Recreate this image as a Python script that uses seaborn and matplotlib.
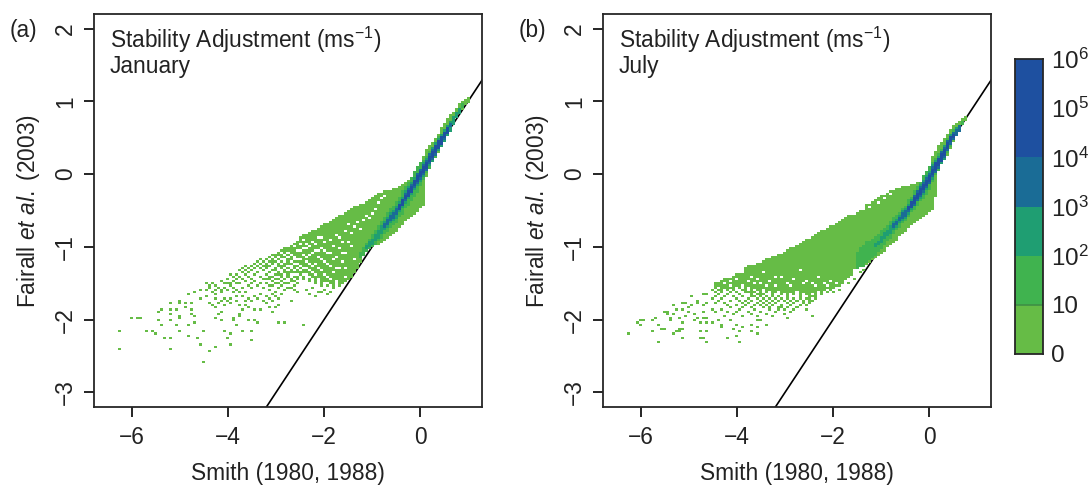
import numpy as np
import pandas as pd
import matplotlib
matplotlib.use("Agg")
from matplotlib import pyplot as plt
from matplotlib.colors import ListedColormap
import seaborn as sns

# colour classes, bottom to top of the colour bar
class_colors = ["#66bc46", "#40b34f", "#1f9e72", "#1a6c96", "#1e50a0"]
bar_classes = [5, 5, 4, 3, 2, 1]
bar_labels = ["$10^6$", "$10^5$", "$10^4$", "$10^3$", "$10^2$", "10", "0"]

xticks = [-6, -4, -2, 0]
yticks = [-3, -2, -1, 0, 1, 2]
line_xy = [-7, 2]

# JANUARY: solid part of the cloud, one high/low value per column
jan_col_x = np.arange(-2.5, 1.05, 0.0625)
jan_hi = [-.86, -.85, -.83, -.81, -.79, -.77, -.75, -.72, -.70, -.68, -.66, -.63, -.61, -.58, -.56, -.54, -.52, -.49, -.46,
          -.44, -.43, -.41, -.38, -.36, -.34, -.31, -.28, -.26, -.25, -.25, -.24, -.22, -.20, -.18, -.15, -.11, -.08, -.07,
          -.05, -.02, .05, .24, .34, .38, .43, .48, .55, .62, .69, .75, .80, .85, .91, .97, 1.0, 1.03, 1.06]
jan_lo = [-1.38, -1.44, -1.35, -1.47, -1.41, -1.50, -1.44, -1.53, -1.47, -1.53, -1.50, -1.56, -1.47, -1.53, -1.50, -1.47,
          -1.44, -1.41, -1.36, -1.30, -1.2, -1.11, -1.0, -.99, -.98, -.97, -.96, -.94, -.90, -.87, -.84, -.81, -.77, -.73,
          -.69, -.63, -.59, -.56, -.53, -.50, -.45, -.41, -.04, .12, .17, .23, .31, .38, .50, .61, .66, .72, .78, .84, .90, .95, 1.0]

# JANUARY: busier part of the ridge
jan_core_x = np.arange(-1.25, 0.95, 0.0625)
jan_mid = [-1.12, -1.07, -1.01, -.97, -.92, -.87, -.82, -.77, -.71, -.66, -.61, -.56, -.52, -.45, -.39, -.32, -.26, -.20,
           -.13, -.07, -.01, .06, .13, .20, .27, .34, .41, .47, .53, .60, .67, .74, .81, .87, .94, 1.0]
jan_w2 = [.03, .04, .05, .06, .07, .08, .09, .10, .11, .11, .12, .12, .13, .13, .14, .14, .15, .15, .16, .16, .15, .11, .10,
          .10, .09, .09, .09, .08, .08, .07, .06, .05, .04, .03, .02, 0]
jan_w3 = [0, 0, .02, .03, .03, .03, .04, .05, .05, .06, .06, .06, .07, .07, .07, .07, .08, .08, .08, .08, .08, .08, .08, .08,
          .08, .08, .08, .08, .08, .07, .06, .05, .03, .02, 0, 0]
jan_w4 = [0, 0, 0, 0, 0, 0, 0, 0, .02, .02, .03, .03, .03, .04, .04, .05, .05, .05, .05, .06, .06, .06, .06, .06, .06, .06,
          .05, .05, .04, .03, .02, 0, 0, 0, 0, 0]
jan_w5 = [0, 0, 0, 0, 0, 0, 0, 0, 0, 0, 0, 0, 0, .02, .02, .02, .03, .03, .03, .03, .03, .03, .03, .03, .04, .04, .04, .04,
          .03, .03, 0, 0, 0, 0, 0, 0]

# JANUARY: gaps in the solid part
jan_gap_x = [-2.44, -2.44, -2.38, -2.38, -2.31, -2.25, -2.25, -2.19, -2.19, -2.13, -2.13, -2.06, -2.06, -2.0, -2.0, -1.94,
             -1.94, -1.88, -1.88, -1.81, -1.81, -1.75, -1.75, -1.69, -1.69, -1.63, -1.63, -1.56, -1.56, -1.5, -1.5, -1.44,
             -1.38, -1.31, -1.25, -1.19, -1.13, -1.06, -1.0, -.94, -.88, -2.5, -2.31, -2.13, -1.94, -1.75, -1.56, -.81, -.75,
             -2.5, -2.5, -2.5, -2.5, -2.44, -2.44, -2.44, -2.38, -2.38, -2.38, -2.31, -2.31, -2.31, -2.25, -2.25, -2.19, -2.19,
             -2.13, -2.13, -2.06, -2.06, -2.0, -2.0, -1.94, -1.88, -1.88, -1.81, -1.75, -1.69, -1.63, -1.56, -1.44, -1.38]
jan_gap_y = [-1.02, -1.29, -.96, -1.2, -1.11, -.93, -1.35, -1.05, -1.23, -.87, -1.14, -1.02, -1.32, -.93, -1.2, -1.08,
             -1.41, -.9, -1.26, -.99, -1.35, -.84, -1.14, -1.02, -1.29, -.93, -1.2, -.78, -1.08, -.69, -.93, -.81,
             -.72, -.66, -.75, -.63, -.57, -.6, -.54, -.48, -.39, -1.17, -1.41, -1.44, -1.5, -1.47, -1.41, -.33, -.3,
             -.96, -1.05, -1.26, -1.32, -.9, -1.11, -1.38, -1.02, -1.14, -1.29, -.99, -1.23, -1.32, -1.08, -1.26, -.96, -1.38,
             -1.05, -1.29, -.87, -1.17, -1.05, -1.38, -1.23, -1.08, -1.44, -1.17, -1.29, -.87, -1.08, -1.29, -.99, -1.17]

# JANUARY: scattered cells to the left, listed column by column
jan_scat_x = np.arange(-4.4375, -2.5, 0.0625)
jan_scat_y = [
    [-1.50, -1.59, -1.68], [-1.53, -1.56, -1.77], [-1.50, -1.62, -1.80], [-1.53, -1.59, -1.65, -1.71, -1.83],
    [-1.56, -1.77, -1.92], [-1.47, -1.59, -1.62, -1.74, -1.89], [-1.50, -1.56, -1.71, -1.80], [-1.44, -1.50, -1.59, -1.74],
    [-1.38, -1.50, -1.53, -1.71, -1.77], [-1.41, -1.47, -1.56, -1.62, -1.98], [-1.38, -1.44, -1.50, -1.59, -1.68, -1.74],
    [-1.32, -1.41, -1.50, -1.62, -1.80, -1.92], [-1.29, -1.35, -1.44, -1.56, -1.68, -1.86],
    [-1.26, -1.32, -1.38, -1.47, -1.62, -1.74, -1.80], [-1.29, -1.35, -1.41, -1.53, -1.71, -1.83],
    [-1.26, -1.32, -1.44, -1.50, -1.56, -1.74], [-1.23, -1.29, -1.38, -1.47, -1.68, -1.86], [-1.20, -1.26, -1.35, -1.53, -1.71],
    [-1.17, -1.23, -1.29, -1.41, -1.50, -1.65, -1.86], [-1.20, -1.26, -1.32, -1.44, -1.56, -1.74],
    [-1.17, -1.23, -1.26, -1.29, -1.38, -1.44, -1.50, -1.68, -1.77], [-1.14, -1.20, -1.26, -1.35, -1.41, -1.44, -1.53, -1.59, -1.71, -1.83],
    [-1.11, -1.17, -1.20, -1.23, -1.32, -1.41, -1.47, -1.53, -1.65, -1.74, -1.89], [-1.11, -1.14, -1.20, -1.29, -1.32, -1.38, -1.44, -1.50, -1.62, -1.68, -1.83],
    [-1.08, -1.11, -1.17, -1.23, -1.26, -1.35, -1.38, -1.44, -1.50, -1.56, -1.71, -1.80], [-1.05, -1.11, -1.14, -1.20, -1.26, -1.29, -1.38, -1.41, -1.47, -1.53, -1.65],
    [-1.02, -1.05, -1.08, -1.14, -1.23, -1.26, -1.32, -1.35, -1.44, -1.50, -1.59], [-1.02, -1.05, -1.11, -1.17, -1.20, -1.23, -1.29, -1.35, -1.38, -1.41, -1.50, -1.56],
    [-.99, -1.02, -1.05, -1.08, -1.14, -1.17, -1.23, -1.32, -1.35, -1.44, -1.47, -1.56, -1.74], [-.96, -1.02, -1.05, -1.08, -1.11, -1.20, -1.26, -1.29, -1.35, -1.41, -1.47, -1.53, -1.59],
    [-.93, -.96, -.99, -1.02, -1.08, -1.11, -1.14, -1.20, -1.26, -1.32, -1.35, -1.41, -1.44, -1.50, -1.62],
]
# JANUARY: far outliers
jan_far_x = [-6.26, -6.26, -5.97, -5.87, -5.82, -5.68, -5.58, -5.51, -5.41, -5.37, -5.41, -5.35, -5.33, -5.21, -5.16, -5.16,
             -5.16, -5.16, -5.08, -5.21, -5.08, -5.01, -4.97, -4.97, -5.01, -4.97, -4.83, -4.83, -4.76, -4.66, -4.66, -4.62,
             -4.83, -4.86, -4.86, -4.72, -4.76, -4.66, -4.56, -4.56, -4.56, -4.47, -4.51, -4.37, -4.22, -3.91, -3.91, -3.97,
             -4.06, -3.80, -3.87, -3.66, -3.51, -3.51, -3.55, -3.45, -3.37, -2.95, -2.81, -2.45, -4.22, -4.12, -3.76, -2.2, -2.06,
             -2.38, -2.31, -2.25, -2.13, -2.0, -1.94, -1.88]
jan_far_y = [-2.15, -2.39, -1.995, -1.98, -1.995, -2.17, -2.15, -2.20, -1.89, -1.86, -2.0, -2.08, -2.24, -2.24, -2.39, -1.76,
             -1.87, -1.93, -1.86, -2.0, -2.08, -1.95, -1.98, -2.17, -1.77, -1.73, -2.08, -2.23, -1.93, -1.94, -2.05, -2.24,
             -1.64, -1.76, -1.83, -1.86, -1.77, -1.62, -1.58, -1.71, -2.35, -2.17, -2.57, -2.42, -2.37, -2.35, -2.20, -2.24,
             -2.15, -2.08, -2.01, -2.15, -2.15, -2.27, -2.02, -2.02, -2.05, -2.05, -2.05, -2.08, -1.98, -2.0, -1.95, -1.68, -1.62,
             -1.59, -1.65, -1.56, -1.62, -1.59, -1.65, -1.62]

# JULY: solid part of the cloud
jul_col_x = np.arange(-4.4375, 0.8, 0.0625)
jul_hi = [-1.51, -1.49, -1.47, -1.45, -1.44, -1.43, -1.41, -1.39,
          -1.37, -1.34, -1.29, -1.27, -1.26, -1.25, -1.24, -1.22, -1.20, -1.18, -1.17, -1.15, -1.13, -1.11, -1.10, -1.08, -1.06,
          -1.03, -1.01, -.98, -.96, -.94, -.91, -.89, -.87, -.84, -.82, -.79, -.77, -.75, -.73, -.71, -.69, -.66, -.62, -.59,
          -.58, -.57, -.56, -.53, -.50, -.47, -.43, -.41, -.38, -.36, -.34, -.31, -.29, -.27, -.24, -.23, -.22, -.21, -.19,
          -.18, -.17, -.15, -.14, -.13, -.11, -.08, -.04, .08, .24, .31, .38, .43, .48, .55, .61, .65, .69, .72, .75, .77]
jul_lo = [-1.56, -1.53, -1.59, -1.53, -1.56, -1.50, -1.56, -1.53,
          -1.56, -1.50, -1.59, -1.53, -1.62, -1.56, -1.59, -1.65, -1.56, -1.62, -1.59, -1.65, -1.62, -1.59, -1.65, -1.62, -1.68,
          -1.62, -1.65, -1.59, -1.68, -1.62, -1.65, -1.71, -1.62, -1.65, -1.59, -1.62, -1.59, -1.56, -1.59, -1.56, -1.53, -1.53, -1.50,
          -1.45, -1.41, -1.37, -1.30, -1.19, -1.20, -1.22, -1.23, -1.19, -1.16, -1.13, -1.11, -1.08, -1.04, -1.0, -.97, -.93, -.89,
          -.85, -.81, -.77, -.73, -.69, -.66, -.64, -.61, -.58, -.55, -.52, -.48, -.30, .10, .16, .22, .27, .36, .46, .56, .64, .70, .74]

jul_core_x = np.arange(-1.5, 0.8, 0.0625)
jul_mid = [-1.18, -1.15, -1.12, -1.07, -1.05, -1.01, -.98, -.94, -.90, -.85, -.81, -.76, -.71, -.67, -.62, -.57, -.53, -.47, -.42,
           -.36, -.30, -.24, -.18, -.12, -.05, .03, .10, .16, .23, .30, .39, .47, .53, .58, .63, .70, .75]
jul_w2 = [.10, .12, .13, .13, .13, .12, .12, .11, .11, .10, .10, .10, .10, .09, .09, .09, .09, .10, .10, .11, .12, .13, .14, .15,
          .15, .11, .10, .10, .09, .09, .08, .07, .06, .05, .04, .02, 0]
jul_w3 = [0, 0, 0, 0, 0, 0, .02, .02, .03, .03, .04, .04, .05, .05, .05, .06, .06, .06, .07, .07, .07, .08, .08, .08, .08, .08, .08,
          .08, .08, .08, .07, .06, .05, .04, .03, 0, 0]
jul_w4 = [0, 0, 0, 0, 0, 0, 0, 0, 0, 0, 0, 0, .02, .02, .02, .03, .03, .03, .04, .05, .05, .05, .06, .06, .06, .06, .06, .06, .06,
          .05, .05, .05, .04, .03, .02, 0, 0]
jul_w5 = [0, 0, 0, 0, 0, 0, 0, 0, 0, 0, 0, 0, 0, 0, 0, 0, 0, .02, .02, .03, .03, .03, .03, .03, .03, .03, .04, .04, .04, .04, .03, .03,
          .02, 0, 0, 0, 0]

jul_gap_x = [-3.88, -3.75, -3.69, -3.56, -3.44, -3.31, -3.19, -3.06, -2.94, -2.81, -2.69, -2.56, -2.44, -2.31, -2.19, -2.06, -3.5, -3.19, -2.88, -2.63,
             -2.38, -2.13, -1.94, -1.69, -1.38, -1.25, -1.06, -.94, -.81, -4.25, -4.13, -4.0, -3.63, -3.38]
jul_gap_y = [-1.35, -1.47, -1.41, -1.44, -1.35, -1.47, -1.53, -1.41, -1.5, -1.44, -1.32, -1.47, -1.5, -1.41, -1.5, -1.47, -1.5, -1.41, -1.53, -1.5,
             -1.53, -1.53, -1.5, -1.44, -.48, -.45, -.39, -.33, -.27, -1.5, -1.47, -1.44, -1.5, -1.53]

jul_scat_x = np.arange(-4.4375, -2.32, 0.0625)
jul_scat_y = [
    [-1.62, -1.68, -1.77, -1.89], [-1.59, -1.65, -1.74], [-1.62, -1.71, -1.86], [-1.56, -1.68, -1.77, -1.95],
    [-1.59, -1.65, -1.80, -1.89], [-1.56, -1.62, -1.74, -1.83], [-1.59, -1.68, -1.92],
    [-1.62, -1.71, -1.80, -1.89], [-1.65, -1.74, -1.86],
    [-1.59, -1.68, -1.77, -1.83, -1.95], [-1.56, -1.62, -1.74, -1.80], [-1.62, -1.71, -1.77, -1.89],
    [-1.65, -1.68, -1.74, -1.83, -1.92], [-1.62, -1.68, -1.80, -1.86], [-1.65, -1.71, -1.77, -1.95],
    [-1.68, -1.74, -1.80, -1.89], [-1.65, -1.71, -1.77, -1.83], [-1.68, -1.74, -1.80, -1.92],
    [-1.71, -1.77, -1.83, -1.86], [-1.68, -1.74, -1.80, -1.95], [-1.71, -1.77, -1.89], [-1.68, -1.74, -1.83, -1.86],
    [-1.71, -1.80, -1.83], [-1.74, -1.86, -1.92], [-1.71, -1.77, -1.83], [-1.74, -1.80, -1.89],
    [-1.71, -1.77, -1.86], [-1.74, -1.83], [-1.71, -1.80], [-1.74, -1.77], [-1.71, -1.80, -1.86],
    [-1.74, -1.77], [-1.68, -1.74], [-1.68, -1.71],
]
jul_far_x = [-6.26, -6.06, -6.02, -5.97, -5.91, -5.78, -5.66, -5.72, -5.62, -5.62, -5.56, -5.47, -5.51, -5.43, -5.41, -5.37, -5.37,
             -5.31, -5.31, -5.26, -5.15, -5.19, -5.12, -5.12, -5.19, -5.26, -5.33, -5.2, -5.12, -5.12, -5.06, -5.06, -5.01, -5.01,
             -4.94, -4.94, -4.91, -4.89, -4.89, -4.81, -4.77, -4.77, -4.77, -4.66, -4.62, -4.62, -4.62, -4.6, -4.51, -4.7, -4.7,
             -4.7, -4.84, -4.81, -4.7, -4.6, -4.6, -4.49, -4.49, -4.49, -4.31, -4.31, -4.16, -4.01, -3.91, -3.95, -4.05, -3.99, -3.87,
             -3.7, -3.66, -3.56, -3.56, -3.35, -2.45, -2.95, -3.59, -3.49, -4.1, -4.35, -2.25, -2.13, -2.0, -1.88, -1.69, -1.56, -1.44, -1.38]
jul_far_y = [-2.20, -2.05, -2.02, -2.08, -2.02, -2.02, -1.98, -2.15, -2.08, -2.30, -2.12, -2.12, -1.90, -1.88, -1.93, -1.98, -2.02,
             -1.80, -1.93, -1.86, -1.86, -1.98, -2.05, -2.12, -2.12, -2.15, -2.19, -2.17, -2.24, -1.76, -1.76, -1.95, -1.83, -1.88,
             -1.80, -1.69, -1.67, -1.93, -2.02, -1.98, -2.05, -2.15, -2.24, -2.24, -2.30, -2.15, -2.05, -1.99, -2.05, -1.98, -1.89,
             -1.80, -1.76, -1.73, -1.64, -1.66, -1.78, -1.87, -1.71, -1.60, -2.08, -2.10, -2.24, -2.23, -2.30, -2.17, -2.12, -2.08, -2.10,
             -2.08, -2.17, -2.20, -2.10, -2.08, -1.95, -1.98, -2.01, -2.01, -2.01, -2.02, -1.65, -1.62, -1.62, -1.59, -1.5, -1.44, -1.35, -1.32]


def make_cells(col_x, hi, lo, core_x, mid, w2, w3, w4, w5, gap_x, gap_y, scat_x, scat_y, far_x, far_y):
    # every cell gets the highest colour class found for it
    cells = {}

    def put(x, y, cls):
        key = (round(x / 0.0625), round(y / 0.03))
        cells[key] = max(cells.get(key, 0), cls)

    for x, top, bot in zip(col_x, hi, lo, strict=True):
        for r in range(round(bot / 0.03), round(top / 0.03) + 1):
            put(x, r * 0.03, 1)
    for gx, gy in zip(gap_x, gap_y, strict=True):
        cells.pop((round(gx / 0.0625), round(gy / 0.03)), None)
    for x, ys in zip(scat_x, scat_y, strict=True):
        for y in ys:
            put(x, y, 1)
    for x, y in zip(far_x, far_y, strict=True):
        put(x, y, 1)
    for cls, widths in zip([2, 3, 4, 5], [w2, w3, w4, w5]):
        for x, m, w in zip(core_x, mid, widths, strict=True):
            if w > 0:
                for r in range(round((m - w) / 0.03), round((m + w) / 0.03) + 1):
                    put(x, r * 0.03, cls)
    df = pd.DataFrame([(k[0] * 0.0625, k[1] * 0.03, v) for k, v in cells.items()], columns=["x", "y", "cls"])
    return df


jan = make_cells(jan_col_x, jan_hi, jan_lo, jan_core_x, jan_mid, jan_w2, jan_w3, jan_w4, jan_w5,
                 jan_gap_x, jan_gap_y, jan_scat_x, jan_scat_y, jan_far_x, jan_far_y)
jul = make_cells(jul_col_x, jul_hi, jul_lo, jul_core_x, jul_mid, jul_w2, jul_w3, jul_w4, jul_w5,
                 jul_gap_x, jul_gap_y, jul_scat_x, jul_scat_y, jul_far_x, jul_far_y)

sns.set_style("ticks")
plt.rcParams["font.family"] = ["Liberation Sans", "DejaVu Sans"]
plt.rcParams["mathtext.fontset"] = "custom"
plt.rcParams["mathtext.rm"] = "Liberation Sans"
plt.rcParams["mathtext.it"] = "Liberation Sans:italic"
plt.rcParams["mathtext.default"] = "regular"
fs = 16.4
ink = "#222222"

W, H = 1091.0, 487.0
fig = plt.figure(figsize=(W / 100, H / 100), dpi=100)
cmap = ListedColormap(class_colors)
x_edges = np.arange(-6.84375, 1.35, 0.0625)
y_edges = np.arange(-3.225, 2.22, 0.03)

panels = [(94, jan, "(a)", "January", 10), (603, jul, "(b)", "July", 519)]
for left, df, tag, month, tag_x in panels:
    ax = fig.add_axes([left / W, 1 - 407 / H, 388 / W, 393 / H])
    sns.lineplot(x=line_xy, y=line_xy, color="black", linewidth=1.2, ax=ax, zorder=0.5)
    sns.histplot(data=df, x="x", y="y", weights="cls", bins=[x_edges, y_edges], cmap=cmap, vmin=0.5, vmax=5.5,
                 thresh=0, ax=ax, zorder=1)
    # crisp cells, no blur between them
    ax.collections[-1].set_antialiased(False)
    ax.set_xlim(-6.79, 1.29)
    ax.set_ylim(-3.2, 2.2)
    ax.set_xticks(xticks)
    ax.set_xticklabels([str(t).replace("-", "\u2212") for t in xticks], fontsize=fs, color=ink)
    ax.set_yticks(yticks)
    ax.set_yticklabels([str(t).replace("-", "\u2212") for t in yticks], fontsize=fs, color=ink, rotation=90, va="center")
    ax.tick_params(length=7, width=1.2, color="black", pad=5)
    ax.tick_params(axis="x", pad=7)
    for s in ax.spines.values():
        s.set_visible(True)
        s.set_linewidth(1.3)
    ax.set_xlabel("Smith (1980, 1988)", fontsize=fs, color=ink, labelpad=9)
    ax.set_ylabel("Fairall $\\mathit{et\\ al.}$ (2003)", fontsize=fs, color=ink, labelpad=9)
    ax.text((left + 16) / W, 1 - 40 / H, "Stability Adjustment (ms$^{-1}$)", transform=fig.transFigure, fontsize=fs,
            color=ink, va="center")
    ax.text((left + 16) / W, 1 - 66 / H, month, transform=fig.transFigure, fontsize=fs, color=ink, va="center")
    fig.text(tag_x / W, 1 - 30 / H, tag, fontsize=fs, color=ink, va="center")

# colour bar, one heatmap row per decade
cax = fig.add_axes([1015 / W, 1 - 354 / H, 28 / W, 295 / H])
sns.heatmap(np.array(bar_classes)[:, None], cmap=cmap, vmin=0.5, vmax=5.5, cbar=False, ax=cax,
            xticklabels=False, yticklabels=False)
for s in cax.spines.values():
    s.set_visible(True)
    s.set_linewidth(1.3)
cax.hlines(5, 0, 1, color="#3f8f45", linewidth=1.2)
cax.set_yticks(np.arange(len(bar_labels)))
cax.set_yticklabels(bar_labels, rotation=0, fontsize=fs + 1, color=ink)
cax.yaxis.tick_right()
cax.tick_params(axis="y", length=0, pad=6)

fig.savefig("out.png", dpi=100)
